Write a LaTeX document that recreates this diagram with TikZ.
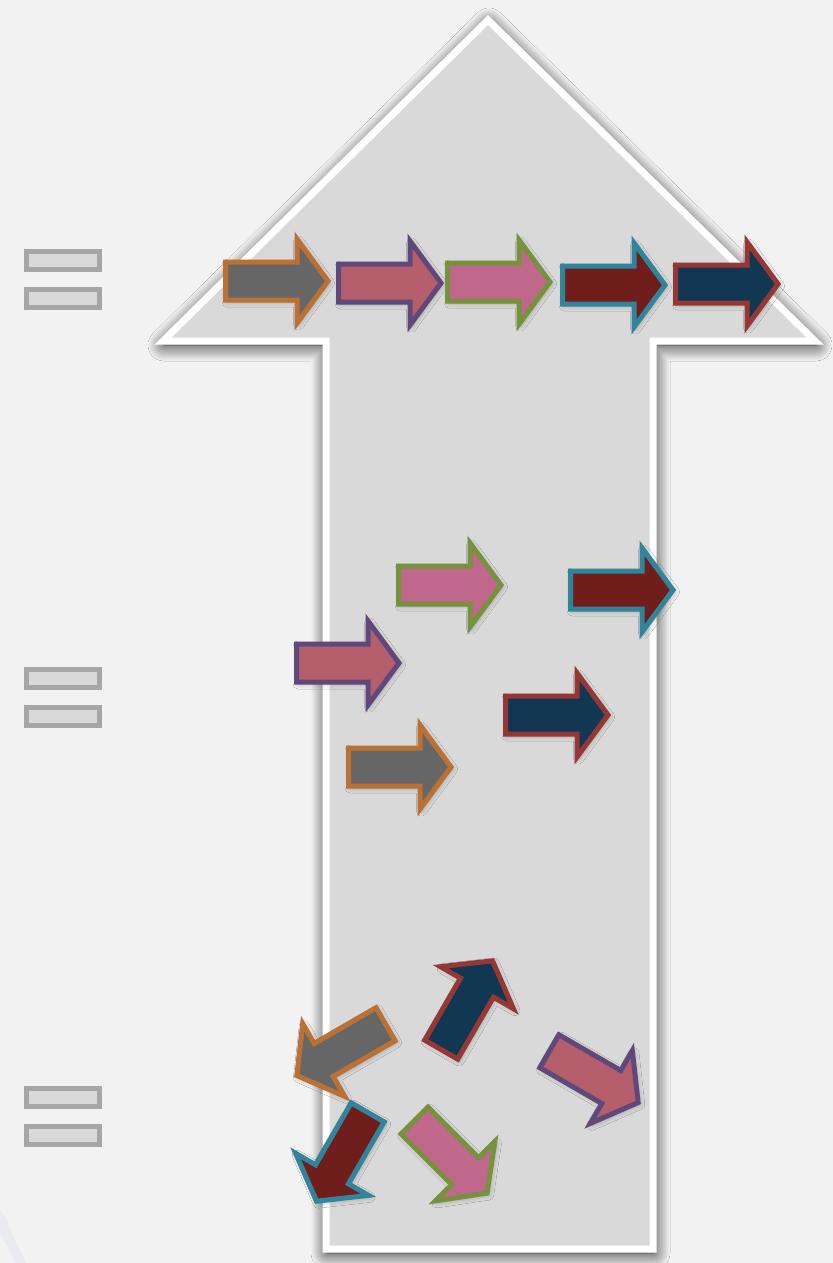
\documentclass[tikz,border=0pt]{standalone}
\usetikzlibrary{shadows.blur}
\definecolor{bg}{HTML}{F2F2F2}
\definecolor{bigfill}{HTML}{D9D9D9}
\definecolor{legline}{HTML}{A6A6A6}
\definecolor{streak}{HTML}{EAEAF1}
\definecolor{gF}{RGB}{102,102,102}
\definecolor{gB}{RGB}{187,113,52}
\definecolor{pF}{RGB}{180,95,107}
\definecolor{pB}{RGB}{96,73,122}
\definecolor{kF}{RGB}{192,104,140}
\definecolor{kB}{RGB}{119,146,60}
\definecolor{rF}{RGB}{112,30,28}
\definecolor{rB}{RGB}{49,133,155}
\definecolor{nF}{RGB}{17,55,83}
\definecolor{nB}{RGB}{149,55,53}
\tikzset{
  sa/.style={line width=2.5pt, line join=miter,
    blur shadow={shadow xshift=0.8pt, shadow yshift=-1pt, shadow blur radius=2.5pt, shadow opacity=30}},
  garr/.style={sa, draw=gB, fill=gF},
  parr/.style={sa, draw=pB, fill=pF},
  karr/.style={sa, draw=kB, fill=kF},
  rarr/.style={sa, draw=rB, fill=rF},
  narr/.style={sa, draw=nB, fill=nF},
  legbox/.style={draw=legline, fill=bigfill, line width=2.5pt},
  bigarrow/.style={draw=white, fill=bigfill, line width=3.5pt, line join=miter,
    blur shadow={shadow xshift=0.5pt, shadow yshift=-2pt, shadow blur radius=8pt, shadow blur steps=25, shadow opacity=90}}
}
\newcommand\myarrow[4]{%
  \path[#4, shift={(#1,#2)}, rotate=#3]
    (-51.5,-19) -- (20,-19) -- (20,-42) -- (51,0) -- (20,42) -- (20,19) -- (-51.5,19) -- cycle;}
\begin{document}
\begin{tikzpicture}[x=0.5pt,y=-0.5pt]
\useasboundingbox (0,0) rectangle (833,1263);
\fill[bg] (0,0) rectangle (833,1263);
\fill[streak] (0,1210) -- (6,1218) -- (14,1238) -- (26,1263) -- (16,1263) -- (4,1240) -- (0,1232) -- cycle;
% big arrow
\path[bigarrow] (488,20) -- (815,341) -- (653,341) -- (653,1249) -- (326,1249) -- (326,341) -- (163,341) -- cycle;
% legend boxes
\foreach \y in {251.5, 289.5, 669.5, 707.5, 1088.5, 1126.5}
  \draw[legbox] (26.5,\y) rectangle (99.5,\y+18);
% row 1
\myarrow{277}{281}{0}{garr}
\myarrow{390}{283}{0}{parr}
\myarrow{499}{282}{0}{karr}
\myarrow{614}{285}{0}{rarr}
\myarrow{727}{284}{0}{narr}
% row 2
\myarrow{450}{585}{0}{karr}
\myarrow{622}{590}{0}{rarr}
\myarrow{348}{663}{0}{parr}
\myarrow{557}{715}{0}{narr}
\myarrow{400}{767}{0}{garr}
% row 3
\myarrow{467}{1005}{60}{narr}
\myarrow{341}{1050}{210}{garr}
\myarrow{342}{1157}{240}{rarr}
\myarrow{451}{1157}{-45}{karr}
\myarrow{594}{1077}{-30}{parr}
\end{tikzpicture}
\end{document}
